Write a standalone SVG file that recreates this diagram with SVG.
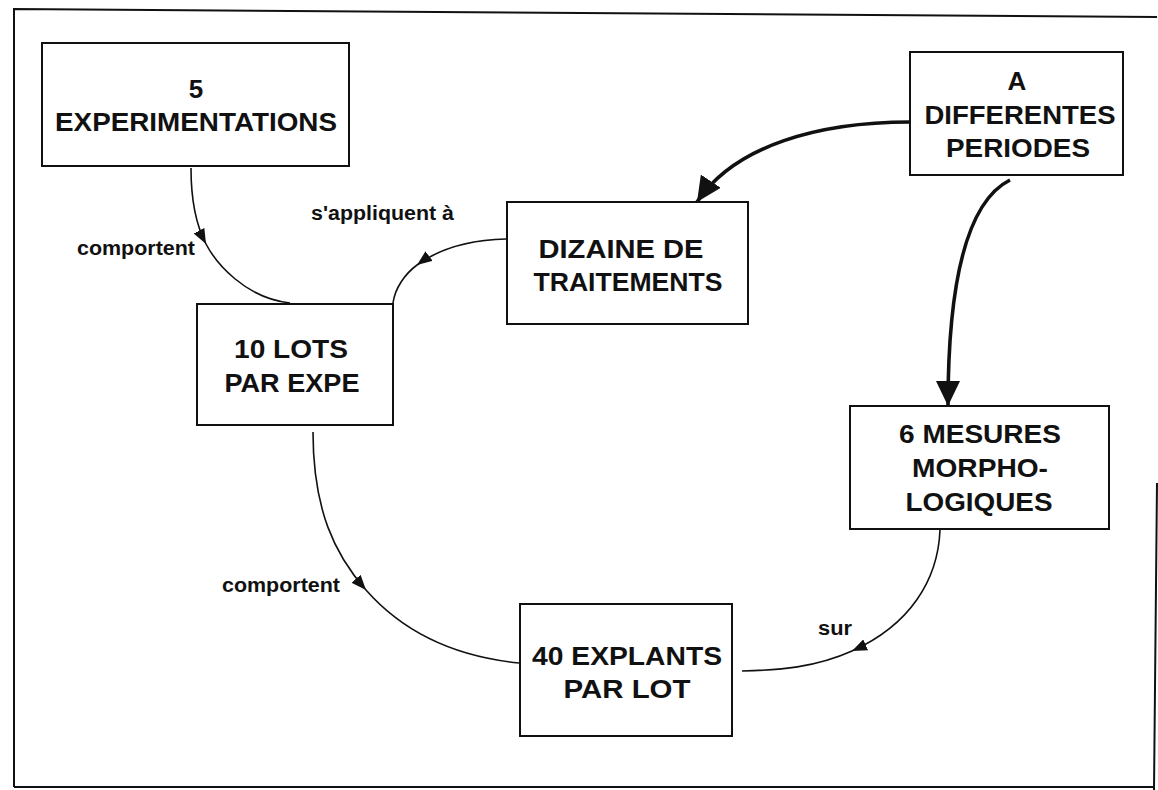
<svg xmlns="http://www.w3.org/2000/svg" width="1158" height="790" viewBox="0 0 1158 790">
  <style>
    .frame { fill: none; stroke: #111; stroke-width: 2; }
    .box { fill: #fff; stroke: #111; stroke-width: 2; }
    .node { font-family: "Liberation Sans", Arial, sans-serif; font-weight: bold; font-size: 26px; fill: #111; text-anchor: middle; }
    .lbl { font-family: "Liberation Sans", Arial, sans-serif; font-weight: bold; font-size: 20px; fill: #111; }
    .thin { fill: none; stroke: #111; stroke-width: 1.6; }
    .thick { fill: none; stroke: #111; stroke-width: 3.6; }
  </style>
  <defs>
    <marker id="arrow-small" markerUnits="userSpaceOnUse" markerWidth="16" markerHeight="12" refX="15" refY="6" orient="auto">
      <path d="M0,0 L15,6 L0,12 Z" fill="#111"/>
    </marker>
    <marker id="arrow-big" markerUnits="userSpaceOnUse" markerWidth="26" markerHeight="24" refX="25" refY="12" orient="auto">
      <path d="M0,0 L25,12 L0,24 Z" fill="#111"/>
    </marker>
  </defs>

  <rect width="1158" height="790" fill="#fff"/>

  <!-- page frame -->
  <path class="frame" d="M14,787 L14,9 L1157,17 M1157,483 L1154,790 M14,787 L1154,787"/>

  <!-- connectors -->
  <g id="connectors">
    <path class="thin" marker-mid="url(#arrow-small)" d="M191,168 C191,200 196,225 206,244 C216,263 245,298 290,303"/>
    <path class="thin" marker-mid="url(#arrow-small)" d="M506,239 C470,240 440,248 417,265 C405,273.9 395,288 393,303"/>
    <path class="thick" marker-end="url(#arrow-big)" d="M910,122 C820,122 735,145 697,202"/>
    <path class="thick" marker-end="url(#arrow-big)" d="M1010,180 C970,200 948,270 948,406"/>
    <path class="thin" marker-mid="url(#arrow-small)" d="M313,432 C313,510 335,555 366,590 C395,623 440,655 519,663"/>
    <path class="thin" marker-mid="url(#arrow-small)" d="M940,530 C938,580 910,625 852,651 C815,667.6 780,670 742,671"/>
    <text class="lbl" x="77" y="255" textLength="118" lengthAdjust="spacingAndGlyphs">comportent</text>
    <text class="lbl" x="311" y="220" textLength="143" lengthAdjust="spacingAndGlyphs">s'appliquent à</text>
    <text class="lbl" x="222" y="592" textLength="118" lengthAdjust="spacingAndGlyphs">comportent</text>
    <text class="lbl" x="818" y="635" textLength="34" lengthAdjust="spacingAndGlyphs">sur</text>
  </g>

  <g id="experimentations">
    <rect class="box" x="42" y="43" width="307" height="123"/>
    <text class="node" x="196" y="98">5</text>
    <text class="node" x="196" y="131" textLength="282" lengthAdjust="spacingAndGlyphs">EXPERIMENTATIONS</text>
  </g>

  <g id="periodes">
    <rect class="box" x="910" y="52" width="213" height="123"/>
    <text class="node" x="1017" y="90">A</text>
    <text class="node" x="1020" y="124" textLength="191" lengthAdjust="spacingAndGlyphs">DIFFERENTES</text>
    <text class="node" x="1018" y="157" textLength="144" lengthAdjust="spacingAndGlyphs">PERIODES</text>
  </g>

  <g id="traitements">
    <rect class="box" x="507" y="202" width="241" height="122"/>
    <text class="node" x="621" y="258" textLength="165" lengthAdjust="spacingAndGlyphs">DIZAINE DE</text>
    <text class="node" x="628" y="291" textLength="189" lengthAdjust="spacingAndGlyphs">TRAITEMENTS</text>
  </g>

  <g id="lots">
    <rect class="box" x="197" y="304" width="196" height="121"/>
    <text class="node" x="291" y="358" textLength="114" lengthAdjust="spacingAndGlyphs">10 LOTS</text>
    <text class="node" x="292" y="392" textLength="135" lengthAdjust="spacingAndGlyphs">PAR EXPE</text>
  </g>

  <g id="explants">
    <rect class="box" x="520" y="604" width="212" height="132"/>
    <text class="node" x="627" y="665" textLength="190" lengthAdjust="spacingAndGlyphs">40 EXPLANTS</text>
    <text class="node" x="627" y="698" textLength="127" lengthAdjust="spacingAndGlyphs">PAR LOT</text>
  </g>

  <g id="mesures">
    <rect class="box" x="850" y="406" width="259" height="123"/>
    <text class="node" x="980" y="443" textLength="162" lengthAdjust="spacingAndGlyphs">6 MESURES</text>
    <text class="node" x="980" y="477" textLength="136" lengthAdjust="spacingAndGlyphs">MORPHO-</text>
    <text class="node" x="979" y="511" textLength="147" lengthAdjust="spacingAndGlyphs">LOGIQUES</text>
  </g>
</svg>
